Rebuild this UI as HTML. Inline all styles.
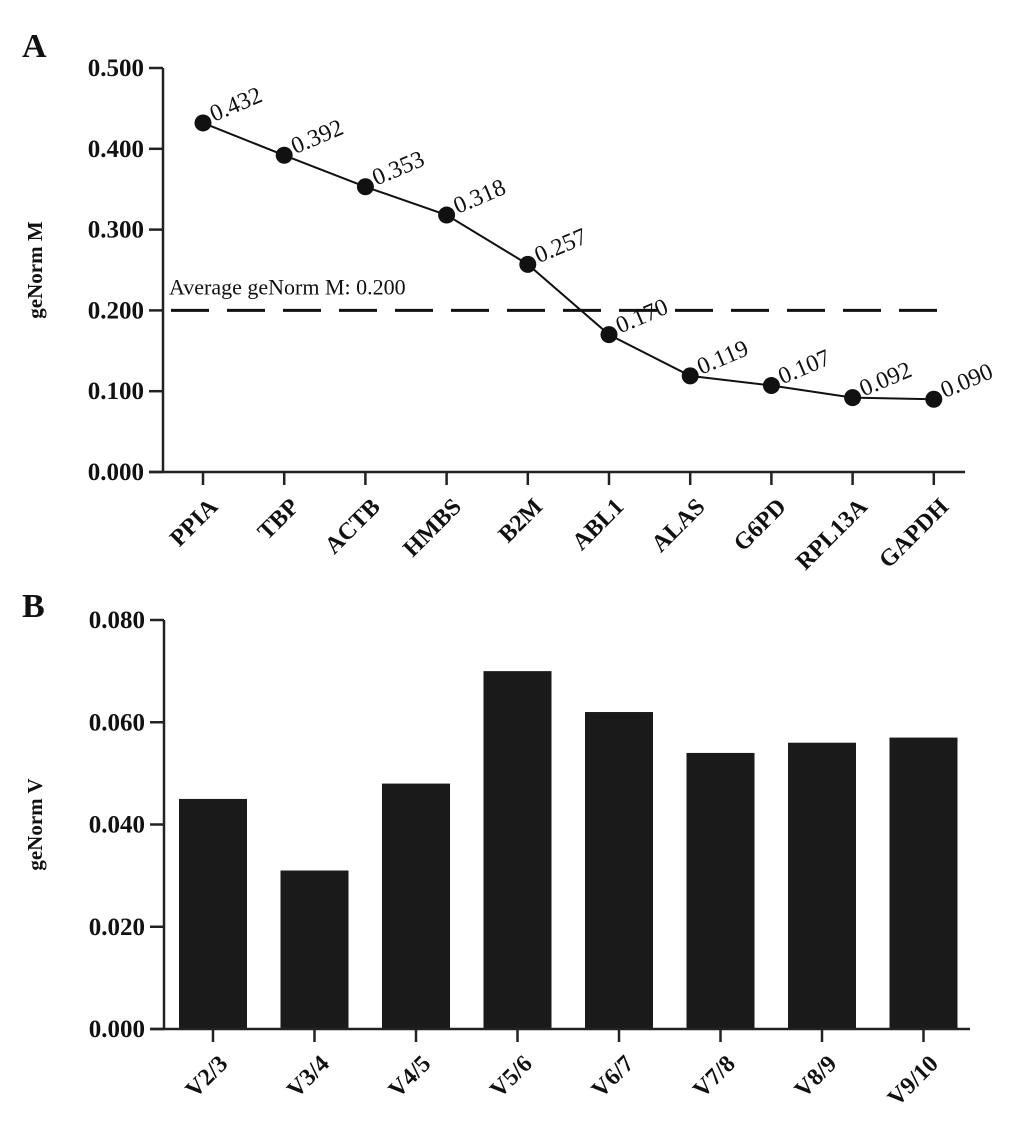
<!DOCTYPE html>
<html><head><meta charset="utf-8"><style>
body{margin:0;background:#fff}
svg{display:block}
text{font-family:"Liberation Serif",serif;fill:#111}
</style></head><body>
<svg id="chart" width="1033" height="1137" viewBox="0 0 1033 1137" xmlns="http://www.w3.org/2000/svg">
<text x="22" y="57" font-size="34" font-weight="bold">A</text>
<text x="22" y="617" font-size="34" font-weight="bold">B</text>
<g id="pa"></g>
<g id="pb"></g>
</svg>
<script>
const genes=["PPIA","TBP","ACTB","HMBS","B2M","ABL1","ALAS","G6PD","RPL13A","GAPDH"];
const mValues=[0.432,0.392,0.353,0.318,0.257,0.170,0.119,0.107,0.092,0.090];
const mLabels=["0.432","0.392","0.353","0.318","0.257","0.170","0.119","0.107","0.092","0.090"];
const mTicks=[0,0.1,0.2,0.3,0.4,0.5];
const mTickLabels=["0.000","0.100","0.200","0.300","0.400","0.500"];
const avgM=0.200;
const pairs=["V2/3","V3/4","V4/5","V5/6","V6/7","V7/8","V8/9","V9/10"];
const vValues=[0.045,0.031,0.048,0.070,0.062,0.054,0.056,0.057];
const vTicks=[0,0.02,0.04,0.06,0.08];
const vTickLabels=["0.000","0.020","0.040","0.060","0.080"];

const NS="http://www.w3.org/2000/svg";
function mk(parent,tag,attrs,txt){const e=document.createElementNS(NS,tag);for(const k in attrs)e.setAttribute(k,attrs[k]);if(txt!==undefined)e.textContent=txt;parent.appendChild(e);return e;}

// Panel A
const pa=document.getElementById('pa');
const ax0=163,ax1=965,ay0=472,ay1=68;
const yA=v=>ay0-(v/0.5)*(ay0-ay1);
const xA=i=>203+i*81.2;
let e=mk(pa,'line',{x1:ax0,y1:ay1,x2:ax0,y2:ay0,stroke:'#222','stroke-width':2.5});

e=mk(pa,'line',{x1:ax0-14,y1:ay0,x2:ax1,y2:ay0,stroke:'#222','stroke-width':2.5});

mTicks.forEach((t,i)=>{
  const y=yA(t);
  e=mk(pa,'line',{x1:ax0-14,y1:y,x2:ax0,y2:y,stroke:'#222','stroke-width':2.5});
  
  e=mk(pa,'text',{x:ax0-19,y:y+8,'text-anchor':'end','font-size':25,'font-weight':'bold'},mTickLabels[i]);
  
});
e=mk(pa,'text',{transform:`translate(42,${(ay0+ay1)/2}) rotate(-90)`,'text-anchor':'middle','font-size':21,'font-weight':'bold'},'geNorm M');

genes.forEach((g,i)=>{
  const x=xA(i);
  e=mk(pa,'line',{x1:x,y1:ay0,x2:x,y2:ay0+13,stroke:'#222','stroke-width':2.5});
  
  e=mk(pa,'text',{transform:`translate(${x+16},${ay0+36}) rotate(-45)`,'text-anchor':'end','font-size':24,'font-weight':'bold'},g);
  
});
e=mk(pa,'line',{x1:ax0+8,y1:yA(avgM),x2:ax1-15,y2:yA(avgM),stroke:'#111','stroke-width':3,'stroke-dasharray':'38,18'});

e=mk(pa,'text',{x:ax0+6,y:yA(avgM)-16,'font-size':22},'Average geNorm M: 0.200');

e=mk(pa,'polyline',{points:mValues.map((v,i)=>xA(i)+','+yA(v)).join(' '),fill:'none',stroke:'#111','stroke-width':2});

mValues.forEach((v,i)=>{
  e=mk(pa,'circle',{cx:xA(i),cy:yA(v),r:8.5,fill:'#111'});
  
  e=mk(pa,'text',{transform:`translate(${xA(i)+11},${yA(v)-1}) rotate(-23)`,'font-size':24},mLabels[i]);
  
});

// Panel B
const pb=document.getElementById('pb');
const bx0=164,bx1=970,by0=1029,by1=620;
const yB=v=>by0-(v/0.08)*(by0-by1);
const xB=i=>213+i*101.5;
e=mk(pb,'line',{x1:bx0,y1:by1,x2:bx0,y2:by0,stroke:'#222','stroke-width':2.5});

vTicks.forEach((t,i)=>{
  const y=yB(t);
  e=mk(pb,'line',{x1:bx0-14,y1:y,x2:bx0,y2:y,stroke:'#222','stroke-width':2.5});
  
  e=mk(pb,'text',{x:bx0-19,y:y+8,'text-anchor':'end','font-size':25,'font-weight':'bold'},vTickLabels[i]);
  
});
e=mk(pb,'text',{transform:`translate(42,${(by0+by1)/2}) rotate(-90)`,'text-anchor':'middle','font-size':21,'font-weight':'bold'},'geNorm V');

vValues.forEach((v,i)=>{
  const x=xB(i);
  e=mk(pb,'rect',{x:x-34,y:yB(v),width:68,height:by0-yB(v),fill:'#1a1a1a'});
  
  e=mk(pb,'line',{x1:x,y1:by0,x2:x,y2:by0+13,stroke:'#222','stroke-width':2.5});
  
  e=mk(pb,'text',{transform:`translate(${x+16},${by0+36}) rotate(-45)`,'text-anchor':'end','font-size':24,'font-weight':'bold'},pairs[i]);
  
});
e=mk(pb,'line',{x1:bx0-14,y1:by0,x2:bx1,y2:by0,stroke:'#222','stroke-width':2.5});

</script>
</body></html>
